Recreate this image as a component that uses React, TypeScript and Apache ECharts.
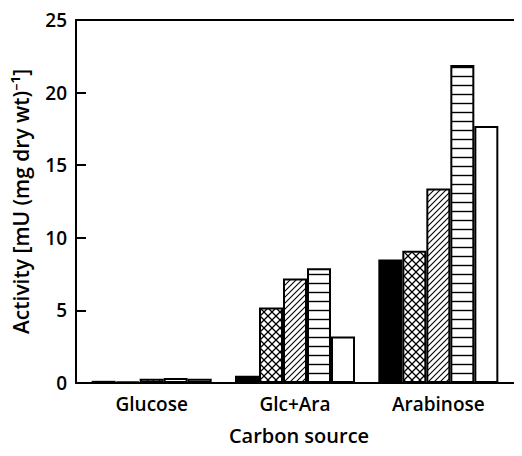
import React, { useEffect, useRef } from "react";
import * as echarts from "echarts";

const categories = ["Glucose", "Glc+Ara", "Arabinose"];
const seriesNames = ["solid", "crosshatch", "diagonal", "horizontal", "open"];
const solidValues = [0.15, 0.5, 8.5];
const crosshatchValues = [0.1, 5.2, 9.1];
const diagonalValues = [0.3, 7.2, 13.4];
const horizontalValues = [0.35, 7.9, 21.9];
const openValues = [0.3, 3.2, 17.7];
const yTicks = [0, 5, 10, 15, 20, 25];
const yTitle = "Activity [mU (mg dry wt)\u207B\u00B9]";
const xTitle = "Carbon source";

const FONT = "'Open Sans', 'Noto Sans', sans-serif";

const svgUrl = (s: string) =>
  "data:image/svg+xml;charset=utf-8," + encodeURIComponent(s);

const crossTile = svgUrl(
  `<svg xmlns="http://www.w3.org/2000/svg" width="8" height="8"><rect width="8" height="8" fill="#fff"/><path d="M-1,-1L9,9M-1,9L9,-1" stroke="#000" stroke-width="1.3" fill="none"/></svg>`
);
const diagTile = svgUrl(
  `<svg xmlns="http://www.w3.org/2000/svg" width="6" height="6"><rect width="6" height="6" fill="#fff"/><path d="M-1,7L7,-1M-1,1L1,-1M5,7L7,5" stroke="#000" stroke-width="1.1" fill="none"/></svg>`
);
const horizTile = svgUrl(
  `<svg xmlns="http://www.w3.org/2000/svg" width="8" height="9"><rect width="8" height="9" fill="#fff"/><path d="M0,4.5L8,4.5" stroke="#000" stroke-width="1.4" fill="none"/></svg>`
);

const pattern = (url: string, w: number, h: number) => ({
  image: url,
  repeat: "repeat",
  imageWidth: w,
  imageHeight: h,
});

const fills: any[] = [
  "#000",
  pattern(crossTile, 8, 8),
  pattern(diagTile, 6, 6),
  pattern(horizTile, 8, 9),
  "#fff",
];
const allValues = [solidValues, crosshatchValues, diagonalValues, horizontalValues, openValues];

export default function App() {
  const ref = useRef<HTMLDivElement>(null);
  useEffect(() => {
    if (!ref.current) return;
    const chart = echarts.init(ref.current, null, { renderer: "svg" });
    const yMin = yTicks[0];
    const yMax = yTicks[yTicks.length - 1];
    const yInt = yTicks[1] - yTicks[0];
    chart.setOption({
      animation: false,
      backgroundColor: "#fff",
      textStyle: { fontFamily: FONT },
      grid: [
        { left: 80, right: 12, top: 20, bottom: 73 },
        { left: 76, right: 0, top: 20, bottom: 73 },
      ],
      xAxis: [
        {
          type: "category",
          gridIndex: 0,
          data: categories,
          axisLine: { show: false },
          axisTick: { show: false },
          axisLabel: { color: "#000", fontSize: 19, fontWeight: 600, fontFamily: FONT, margin: 11 },
        },
        {
          type: "value",
          gridIndex: 1,
          min: 0,
          max: 1,
          position: "bottom",
          axisLine: { show: true, lineStyle: { color: "#000", width: 2 } },
          axisTick: { show: false },
          axisLabel: { show: false },
          splitLine: { show: false },
          name: xTitle,
          nameLocation: "middle",
          nameGap: 42,
          nameTextStyle: { color: "#000", fontSize: 20, fontWeight: 600, fontFamily: FONT },
        },
        {
          type: "value",
          gridIndex: 1,
          min: 0,
          max: 1,
          position: "top",
          axisLine: { show: true, lineStyle: { color: "#000", width: 2 } },
          axisTick: { show: false },
          axisLabel: { show: false },
          splitLine: { show: false },
        },
      ],
      yAxis: [
        {
          type: "value",
          gridIndex: 0,
          min: yMin,
          max: yMax,
          interval: yInt,
          show: false,
          splitLine: { show: false },
        },
        {
          type: "value",
          gridIndex: 1,
          min: yMin,
          max: yMax,
          interval: yInt,
          axisLine: { show: true, lineStyle: { color: "#000", width: 2 } },
          axisTick: { show: true, inside: true, length: 10, lineStyle: { color: "#000", width: 2 } },
          axisLabel: { color: "#000", fontSize: 19, fontWeight: 600, fontFamily: FONT, margin: 9 },
          splitLine: { show: false },
          name: yTitle,
          nameLocation: "middle",
          nameGap: 45,
          nameTextStyle: { color: "#000", fontSize: 21, fontWeight: 600, fontFamily: FONT },
        },
      ],
      series: allValues.map((vals, i) => ({
        name: seriesNames[i],
        type: "bar",
        xAxisIndex: 0,
        yAxisIndex: 0,
        data: vals,
        barWidth: 24,
        barGap: "0%",
        itemStyle: { color: fills[i], borderColor: "#000", borderWidth: 2 },
      })),
    });
    return () => chart.dispose();
  }, []);
  return <div ref={ref} style={{ width: 522, height: 456, margin: -8 }} />;
}
